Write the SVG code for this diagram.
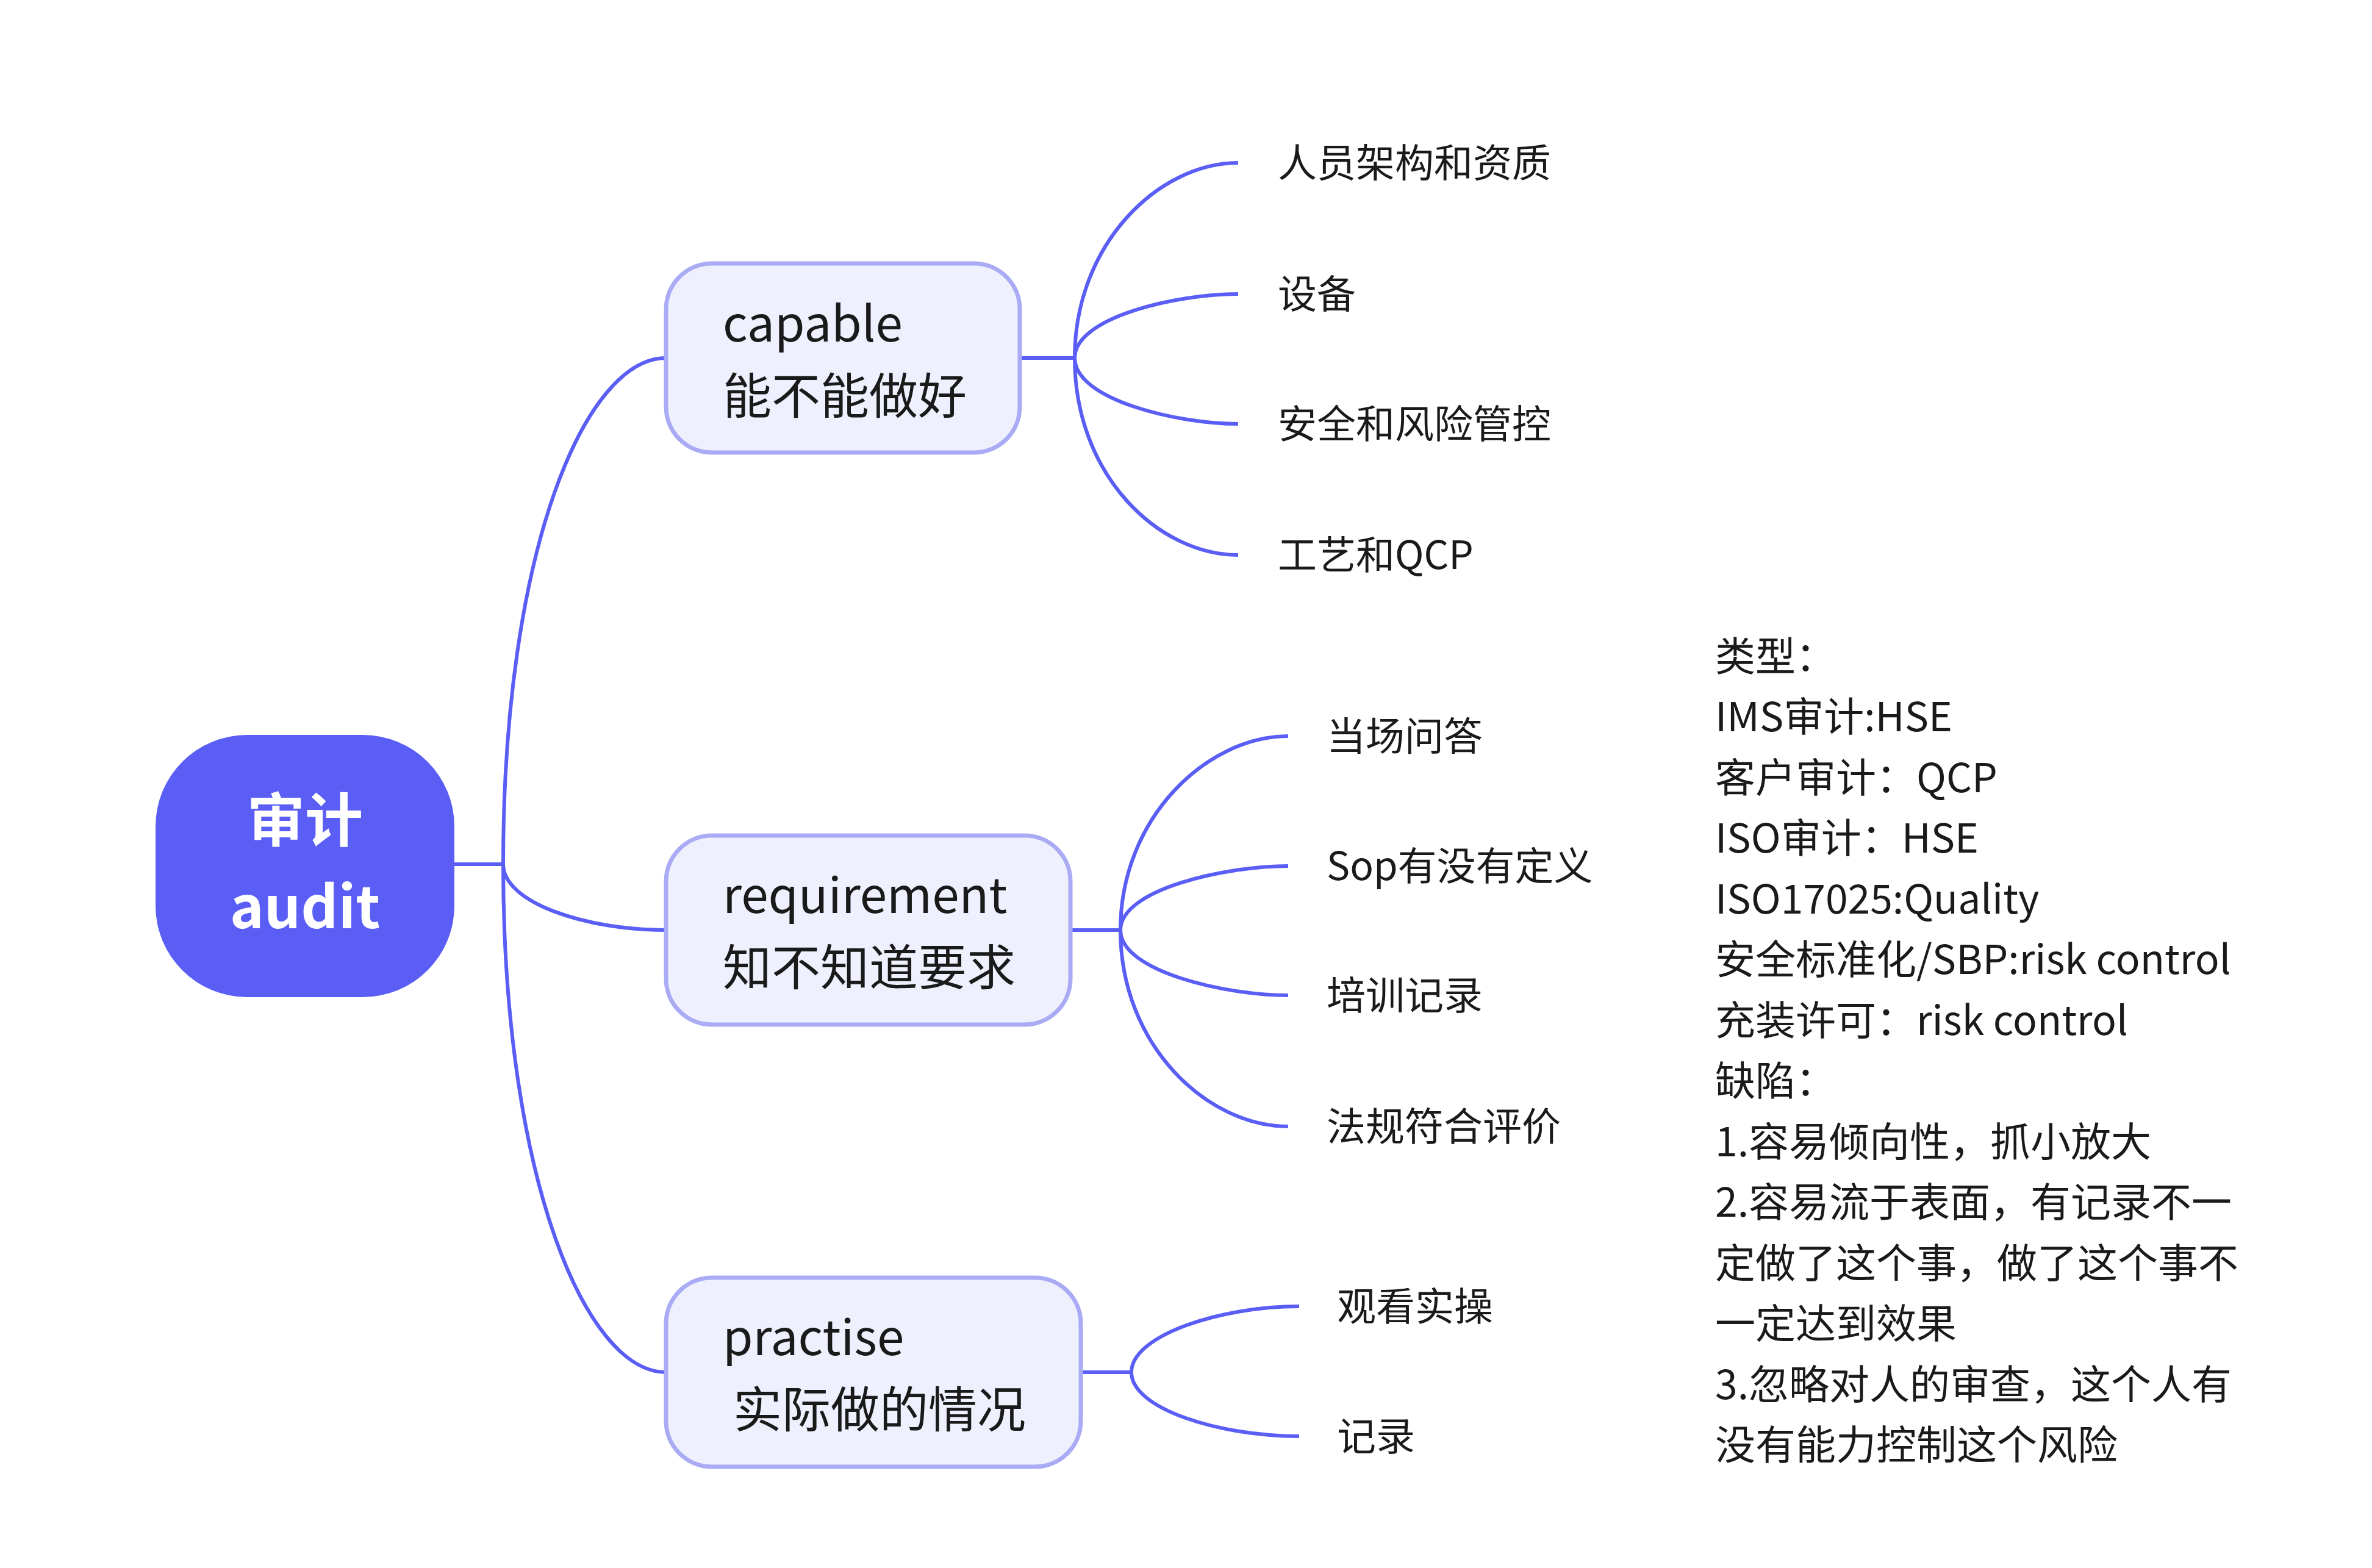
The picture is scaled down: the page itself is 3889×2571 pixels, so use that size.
<svg xmlns="http://www.w3.org/2000/svg" width="3889" height="2571" viewBox="0 0 3889 2571">
<style>
text{font-family:"Noto Sans CJK SC","Noto Sans",sans-serif;fill:#1a1a1a}
.c{fill:none;stroke:#5a5ef5;stroke-width:6}
.box{fill:#eef0fd;stroke:#a9acf5;stroke-width:7}
.bt{font-size:80px}
.lt{font-size:64px}
.nt{font-size:66px}
</style>
<rect width="3889" height="2571" fill="#fff"/>
<g id="connectors">
<path class="c" d="M745,1417 H825"/>
<path class="c" d="M825,1417 C825,900 960,587 1092,587"/>
<path class="c" d="M825,1417 C825,1480 960,1525 1092,1525"/>
<path class="c" d="M825,1417 C825,1930 960,2250 1092,2250"/>
<path class="c" d="M1672,587 H1762"/>
<path class="c" d="M1762,587 C1762,400 1900,267 2030,267"/>
<path class="c" d="M1762,587 C1762,520 1930,482 2030,482"/>
<path class="c" d="M1762,587 C1762,655 1930,695 2030,695"/>
<path class="c" d="M1762,587 C1762,780 1900,910 2030,910"/>
<path class="c" d="M1755,1525 H1837"/>
<path class="c" d="M1837,1525 C1837,1340 1980,1207 2112,1207"/>
<path class="c" d="M1837,1525 C1837,1458 2010,1420 2112,1420"/>
<path class="c" d="M1837,1525 C1837,1593 2010,1632 2112,1632"/>
<path class="c" d="M1837,1525 C1837,1715 1980,1847 2112,1847"/>
<path class="c" d="M1772,2250 H1855"/>
<path class="c" d="M1855,2250 C1855,2190 2000,2142 2130,2142"/>
<path class="c" d="M1855,2250 C1855,2310 2000,2355 2130,2355"/>
</g>
<g id="root">
<rect x="255" y="1205" width="490" height="430" rx="150" fill="#5a5ef5"/>
<text x="500" y="1380" text-anchor="middle" style="font-size:95px;font-weight:bold;fill:#fff">审计</text>
<text x="500" y="1522" text-anchor="middle" style="font-size:95px;font-weight:bold;fill:#fff">audit</text>
</g>
<g id="capable">
<rect class="box" x="1092" y="432" width="580" height="310" rx="75"/>
<text class="bt" x="1185" y="560">capable</text>
<text class="bt" x="1185" y="678">能不能做好</text>
</g>
<g id="requirement">
<rect class="box" x="1092" y="1370" width="663" height="310" rx="75"/>
<text class="bt" x="1185" y="1497">requirement</text>
<text class="bt" x="1185" y="1615">知不知道要求</text>
</g>
<g id="practise">
<rect class="box" x="1092" y="2095" width="680" height="310" rx="75"/>
<text class="bt" x="1185" y="2222">practise</text>
<text class="bt" x="1202" y="2340">实际做的情况</text>
</g>
<g id="leaves">
<text class="lt" x="2095" y="290">人员架构和资质</text>
<text class="lt" x="2095" y="505">设备</text>
<text class="lt" x="2095" y="718">安全和风险管控</text>
<text class="lt" x="2095" y="933">工艺和QCP</text>
<text class="lt" x="2175" y="1230">当场问答</text>
<text class="lt" x="2175" y="1443">Sop有没有定义</text>
<text class="lt" x="2175" y="1655">培训记录</text>
<text class="lt" x="2175" y="1870">法规符合评价</text>
<text class="lt" x="2192" y="2165">观看实操</text>
<text class="lt" x="2192" y="2378">记录</text>
</g>
<g id="note">
<text class="nt" x="2812" y="1100">类型：</text>
<text class="nt" x="2812" y="1199">IMS审计:HSE</text>
<text class="nt" x="2812" y="1299">客户审计：QCP</text>
<text class="nt" x="2812" y="1398">ISO审计：HSE</text>
<text class="nt" x="2812" y="1498">ISO17025:Quality</text>
<text class="nt" x="2812" y="1597">安全标准化/SBP:risk control</text>
<text class="nt" x="2812" y="1697">充装许可：risk control</text>
<text class="nt" x="2812" y="1796">缺陷：</text>
<text class="nt" x="2812" y="1896">1.容易倾向性，抓小放大</text>
<text class="nt" x="2812" y="1995">2.容易流于表面，有记录不一</text>
<text class="nt" x="2812" y="2095">定做了这个事，做了这个事不</text>
<text class="nt" x="2812" y="2194">一定达到效果</text>
<text class="nt" x="2812" y="2294">3.忽略对人的审查，这个人有</text>
<text class="nt" x="2812" y="2393">没有能力控制这个风险</text>
</g>
</svg>
